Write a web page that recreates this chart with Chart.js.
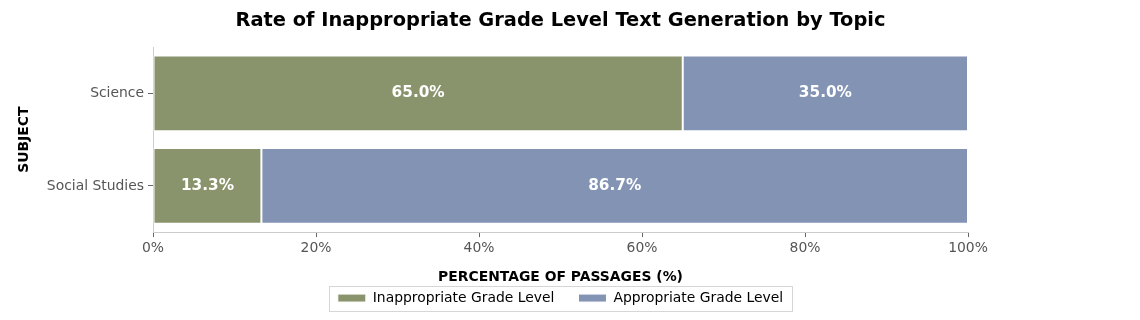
<!DOCTYPE html>
<html>
<head>
<meta charset="utf-8">
<script src="https://cdn.jsdelivr.net/npm/chart.js@4"></script>
<style>
  html, body { margin: 0; padding: 0; background: #fff; }
  #wrap { width: 1140px; height: 320px; }
</style>
</head>
<body>
<div id="wrap"><canvas id="topicChart" width="1140" height="320"></canvas></div>
<script>
const subjects = ['Science', 'Social Studies'];
const inappropriate = [65.0, 13.3];
const appropriate = [35.0, 86.7];
const xTicks = [0, 20, 40, 60, 80, 100];

const FONT = "'DejaVu Sans', sans-serif";

// white percentage text in the middle of each segment
const barLabels = {
    id: 'barLabels',
    afterDatasetsDraw(chart) {
        const ctx = chart.ctx;
        ctx.save();
        ctx.fillStyle = '#ffffff';
        ctx.font = 'bold 15.3px ' + FONT;
        ctx.textAlign = 'center';
        ctx.textBaseline = 'middle';
        chart.data.datasets.forEach(function(ds, i) {
            chart.getDatasetMeta(i).data.forEach(function(bar, j) {
                const cx = (bar.x + bar.base) / 2;
                ctx.fillText(ds.data[j].toFixed(1) + '%', cx, bar.y);
            });
        });
        ctx.restore();
    }
};

// frame around the legend like matplotlib
const legendFrame = {
    id: 'legendFrame',
    afterDraw(chart) {
        const boxes = chart.legend.legendHitBoxes;
        if (!boxes || !boxes.length) return;
        let l = Infinity, t = Infinity, r = -Infinity, b = -Infinity;
        boxes.forEach(function(h) {
            l = Math.min(l, h.left); t = Math.min(t, h.top);
            r = Math.max(r, h.left + h.width); b = Math.max(b, h.top + h.height);
        });
        const cy = (t + b) / 2;
        const ctx = chart.ctx;
        ctx.save();
        ctx.strokeStyle = '#d6d6d6';
        ctx.lineWidth = 1;
        ctx.strokeRect(Math.round(l - 9) + 0.5, Math.round(cy - 12) + 0.5, Math.round(r - l + 18), 25);
        ctx.restore();
    }
};

const ctx = document.getElementById('topicChart').getContext('2d');
new Chart(ctx, {
    type: 'bar',
    data: {
        labels: subjects,
        datasets: [{
            label: 'Inappropriate Grade Level',
            data: inappropriate,
            backgroundColor: '#8a946c',
            borderColor: '#ffffff',
            borderWidth: 1,
            borderSkipped: false
        }, {
            label: 'Appropriate Grade Level',
            data: appropriate,
            backgroundColor: '#8393b4',
            borderColor: '#ffffff',
            borderWidth: 1,
            borderSkipped: false
        }]
    },
    options: {
        indexAxis: 'y',
        responsive: false,
        animation: false,
        layout: { padding: { left: 10, right: 172, top: 0, bottom: 5 } },
        barPercentage: 0.82,
        categoryPercentage: 1.0,
        scales: {
            x: {
                stacked: true,
                min: 0,
                max: 100,
                afterBuildTicks(scale) {
                    scale.ticks = xTicks.map(v => ({ value: v }));
                },
                ticks: {
                    callback: v => v + '%',
                    color: '#555555',
                    font: { family: FONT, size: 13.9 },
                    padding: 3
                },
                grid: { drawOnChartArea: false, drawTicks: true, tickLength: 5, color: '#cccccc', tickColor: '#666666' },
                border: { display: true, color: '#cccccc' },
                title: {
                    display: true,
                    text: 'PERCENTAGE OF PASSAGES (%)',
                    color: '#000000',
                    font: { family: FONT, size: 13.9, weight: 'bold' },
                    padding: { top: 10, bottom: -19 }
                },
                afterFit(scale) { scale.height = 35; }
            },
            y: {
                stacked: true,
                ticks: {
                    color: '#555555',
                    font: { family: FONT, size: 13.9 },
                    padding: 4
                },
                grid: { offset: false, drawOnChartArea: false, drawTicks: true, tickLength: 5, color: '#cccccc', tickColor: '#666666' },
                border: { display: true, color: '#cccccc' },
                title: {
                    display: true,
                    text: 'SUBJECT',
                    color: '#000000',
                    font: { family: FONT, size: 13.9, weight: 'bold' },
                    padding: { top: 6, bottom: 10 }
                },
                afterFit(scale) { scale.width = 143; }
            }
        },
        plugins: {
            title: {
                display: true,
                fullSize: false,
                text: 'Rate of Inappropriate Grade Level Text Generation by Topic',
                color: '#000000',
                font: { family: FONT, size: 19.4, weight: 'bold' },
                padding: { top: 9, bottom: 15 }
            },
            legend: {
                position: 'bottom',
                fullSize: false,
                labels: {
                    boxWidth: 28,
                    boxHeight: 8,
                    padding: 24,
                    color: '#000000',
                    font: { family: FONT, size: 13.9 }
                }
            },
            tooltip: { enabled: false }
        }
    },
    plugins: [barLabels, legendFrame]
});
</script>
</body>
</html>
